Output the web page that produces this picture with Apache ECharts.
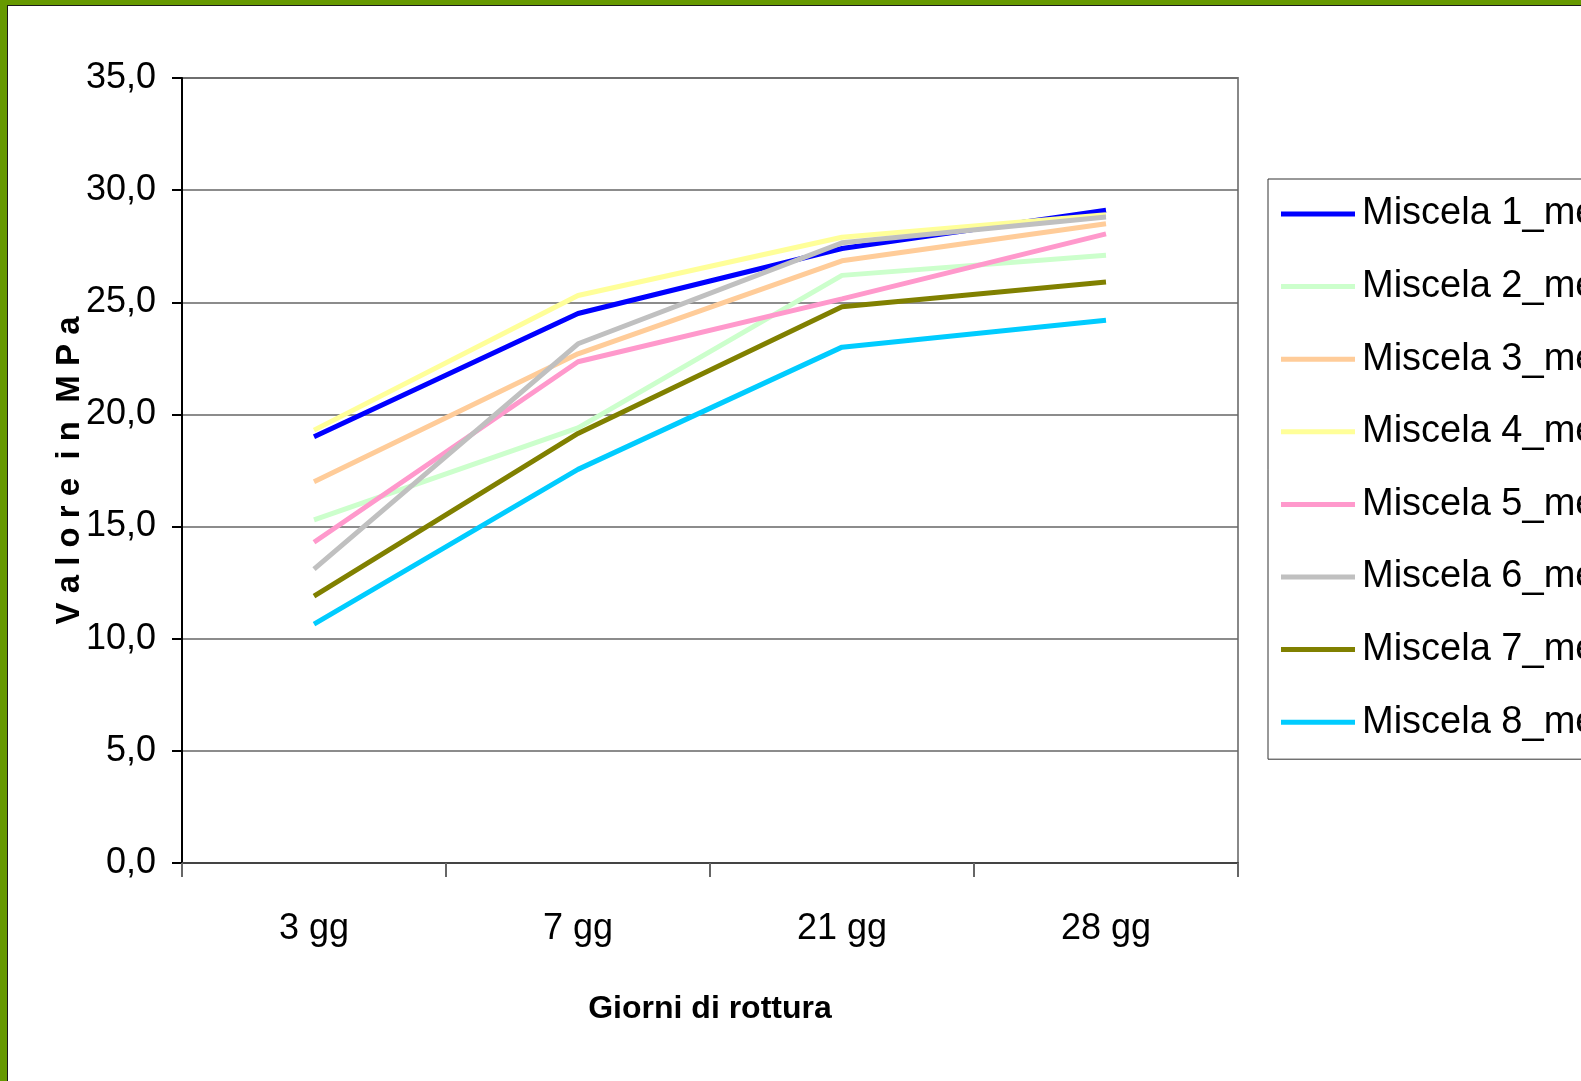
<!DOCTYPE html>
<html>
<head>
<meta charset="utf-8">
<script src="https://cdn.jsdelivr.net/npm/echarts@6/dist/echarts.min.js"></script>
<style>
html,body{margin:0;padding:0;background:#fff;}
#chart{width:1581px;height:1081px;}
</style>
</head>
<body>
<div id="chart"></div>
<script>
var categories = ['3 gg', '7 gg', '21 gg', '28 gg'];
var seriesNames = ['Miscela 1_media','Miscela 2_media','Miscela 3_media','Miscela 4_media','Miscela 5_media','Miscela 6_media','Miscela 7_media','Miscela 8_media'];
var miscela1 = [19.0, 24.5, 27.4, 29.1];
var miscela2 = [15.3, 19.4, 26.2, 27.1];
var miscela3 = [17.0, 22.7, 26.85, 28.5];
var miscela4 = [19.3, 25.3, 27.9, 28.9];
var miscela5 = [14.3, 22.35, 25.15, 28.05];
var miscela6 = [13.1, 23.15, 27.65, 28.8];
var miscela7 = [11.9, 19.15, 24.8, 25.9];
var miscela8 = [10.65, 17.55, 23.0, 24.2];
var seriesValues = [miscela1, miscela2, miscela3, miscela4, miscela5, miscela6, miscela7, miscela8];
var seriesColors = ['#0000ff','#ccffcc','#ffcc99','#ffff99','#ff99cc','#c0c0c0','#808000','#00ccff'];
var yMin = 0, yMax = 35, yStep = 5;

var FONT = "'Liberation Sans Narrow','Arial Narrow','Liberation Sans',Arial,sans-serif";
var chart = echarts.init(document.getElementById('chart'), null, {renderer:'canvas'});

var series = seriesNames.map(function(n, i){
  return {
    name: n, type: 'line', data: seriesValues[i],
    symbol: 'none', smooth: false,
    lineStyle: {color: seriesColors[i], width: 5},
    itemStyle: {color: seriesColors[i]},
    z: 3 + i
  };
});

chart.setOption({
  backgroundColor: '#ffffff',
  animation: false,
  grid: {left: 182, top: 78, width: 1056, height: 785, show: true, borderColor: '#888888', borderWidth: 2, backgroundColor: 'transparent'},
  legend: {
    orient: 'vertical', left: 1268, top: 179,
    data: seriesNames,
    itemWidth: 74, itemHeight: 5, itemGap: 32.6,
    padding: [15, 60, 17, 13],
    borderColor: '#333333', borderWidth: 1,
    icon: 'rect',
    textStyle: {fontFamily: FONT, fontSize: 38, color: '#000', lineHeight: 40, padding: [0,0,0,2]}
  },
  xAxis: {
    type: 'category', data: categories, boundaryGap: true,
    name: 'Giorni di rottura', nameLocation: 'middle', nameGap: 130, nameMoveOverlap: false,
    nameTextStyle: {fontFamily: FONT, fontSize: 32, fontWeight: 'bold', color: '#000'},
    axisLine: {lineStyle: {color: '#444', width: 2}},
    axisTick: {show: true, inside: false, length: 14, lineStyle: {color: '#666', width: 2}},
    axisLabel: {fontFamily: FONT, fontSize: 36, color: '#000', margin: 48},
    splitLine: {show: false}
  },
  yAxis: {
    type: 'value', min: yMin, max: yMax, interval: yStep,
    name: 'V a l o r e  i n  M P a', nameLocation: 'middle', nameGap: 96, nameRotate: 90, nameMoveOverlap: false,
    nameTextStyle: {fontFamily: "'Liberation Sans',Arial,sans-serif", fontSize: 33, fontWeight: 'bold', color: '#000'},
    axisLine: {show: true, lineStyle: {color: '#000', width: 2}},
    axisTick: {show: true, inside: false, length: 10, lineStyle: {color: '#000', width: 2}},
    axisLabel: {fontFamily: FONT, fontSize: 36, color: '#000', margin: 26,
      formatter: function(v){ return v.toFixed(1).replace('.', ','); }},
    splitLine: {show: true, lineStyle: {color: '#666666', width: 1.5}}
  },
  graphic: [
    {type: 'rect', left: 0, top: 0, shape: {width: 1581, height: 5}, style: {fill: '#669900'}, z: 100},
    {type: 'rect', left: 0, top: 0, shape: {width: 7, height: 1081}, style: {fill: '#669900'}, z: 100},
    {type: 'rect', left: 7, top: 5, shape: {width: 1574, height: 1}, style: {fill: '#1a1a1a'}, z: 100},
    {type: 'rect', left: 7, top: 5, shape: {width: 1, height: 1076}, style: {fill: '#1a1a1a'}, z: 100}
  ],
  series: series
});
</script>
</body>
</html>
